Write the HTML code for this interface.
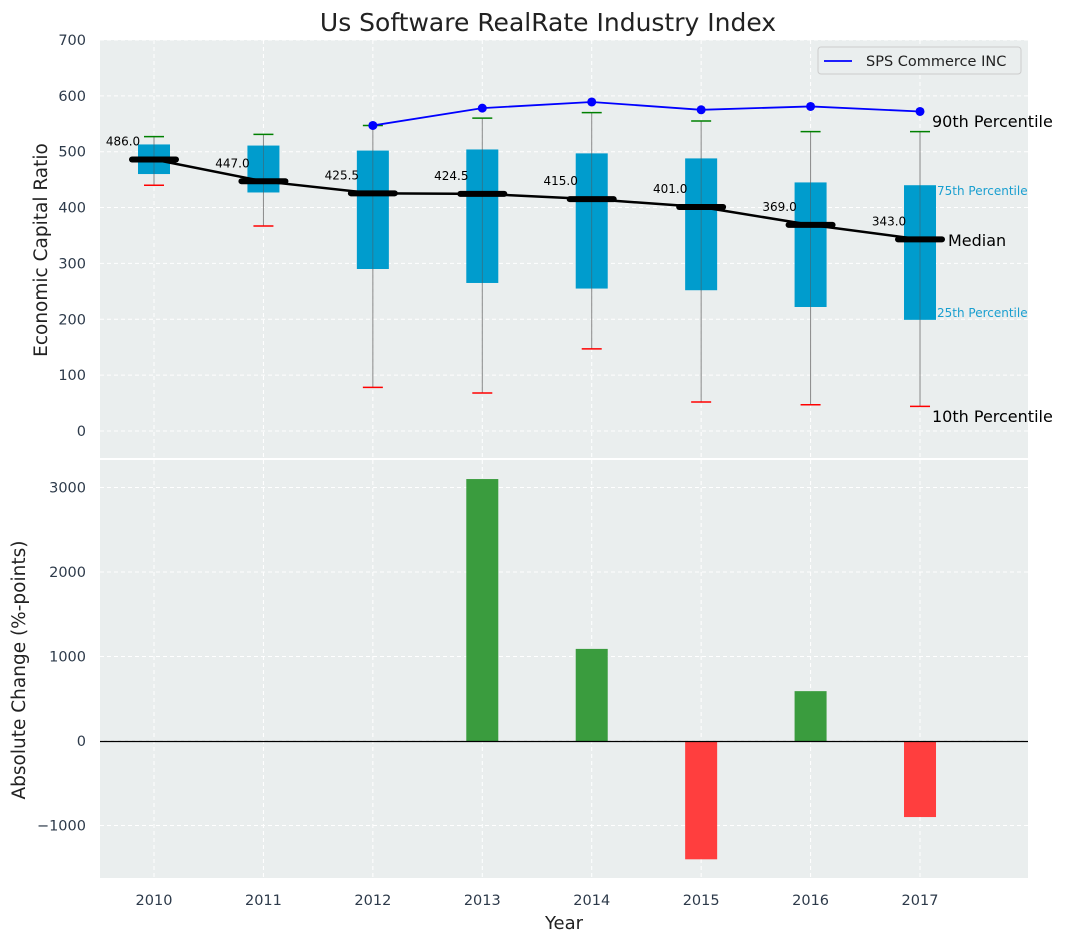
<!DOCTYPE html>
<html><head><meta charset="utf-8"><style>
body{margin:0;background:#fff;font-family:"Liberation Sans","DejaVu Sans",sans-serif}
svg text{font-family:"DejaVu Sans","Liberation Sans",sans-serif}
</style></head><body>
<svg id="chart" width="1067" height="942" xmlns="http://www.w3.org/2000/svg"></svg>
<script>
const years=[2010,2011,2012,2013,2014,2015,2016,2017];
const p10=[440,367,78,68,147,52,47,44];
const q1=[460,427,290,265,255,252,222,199];
const med=[486,447,425.5,424.5,415,401,369,343];
const q3=[513,511,502,504,497,488,445,440];
const p90=[527,531,547,560,570,555,536,536];
const spsYears=[2012,2013,2014,2015,2016,2017];
const spsVals=[547,578,589,575,581,572];
const chgYears=[2013,2014,2015,2016,2017];
const chgVals=[3100,1090,-1400,590,-900];
const topTicks=[0,100,200,300,400,500,600,700];
const botTicks=[-1000,0,1000,2000,3000];

const NS="http://www.w3.org/2000/svg";
const svg=document.getElementById('chart');
function el(t,a,p){const e=document.createElementNS(NS,t);for(const k in a)e.setAttribute(k,a[k]);(p||svg).appendChild(e);return e;}
const X=y=>154+(y-2010)*109.43;
const YT=v=>431-v*0.5586;
const YB=v=>741-v*0.0845;
const L=100,R=1028;

let bg=el('rect',{x:L,y:40,width:R-L,height:418,fill:'#eaeeee'});

let bg2=el('rect',{x:L,y:460,width:R-L,height:418,fill:'#eaeeee'});


topTicks.forEach(t=>{
  el('line',{x1:L,x2:R,y1:YT(t),y2:YT(t),stroke:'#fff','stroke-dasharray':'4,3'});
  const tx=el('text',{x:86,y:YT(t)+5,'text-anchor':'end','font-size':14.5,fill:'#2d3a4a'});tx.textContent=t;
  
});
botTicks.forEach(t=>{
  el('line',{x1:L,x2:R,y1:YB(t),y2:YB(t),stroke:'#fff','stroke-dasharray':'4,3'});
  const tx=el('text',{x:86,y:YB(t)+5,'text-anchor':'end','font-size':14.5,fill:'#2d3a4a'});tx.textContent=t<0?'\u2212'+(-t):t;
  
});
years.forEach(y=>{
  el('line',{x1:X(y),x2:X(y),y1:40,y2:458,stroke:'#fff','stroke-dasharray':'4,3'});
  el('line',{x1:X(y),x2:X(y),y1:460,y2:878,stroke:'#fff','stroke-dasharray':'4,3'});
  const tx=el('text',{x:X(y),y:905,'text-anchor':'middle','font-size':14.5,fill:'#2d3a4a'});tx.textContent=y;
  
});

years.forEach((y,i)=>{
  const x=X(y);
  el('line',{x1:x,x2:x,y1:YT(p90[i]),y2:YT(p10[i]),stroke:'#888','stroke-width':1});
  const b=el('rect',{x:x-16,y:YT(q3[i]),width:32,height:YT(q1[i])-YT(q3[i]),fill:'#009ccd'});
  
  el('line',{x1:x,x2:x,y1:YT(q3[i]),y2:YT(q1[i]),stroke:'#555','stroke-width':0.8,opacity:0.6});
  el('line',{x1:x-10,x2:x+10,y1:YT(p90[i]),y2:YT(p90[i]),stroke:'green','stroke-width':1.5});
  el('line',{x1:x-10,x2:x+10,y1:YT(p10[i]),y2:YT(p10[i]),stroke:'red','stroke-width':1.5});
});
el('polyline',{points:years.map((y,i)=>X(y)+','+YT(med[i])).join(' '),fill:'none',stroke:'#000','stroke-width':2.5});
years.forEach((y,i)=>{
  const m=el('line',{x1:X(y)-22,x2:X(y)+22,y1:YT(med[i]),y2:YT(med[i]),stroke:'#000','stroke-width':6,'stroke-linecap':'round'});
  
  const t=el('text',{x:X(y)-31,y:YT(med[i])-14,'text-anchor':'middle','font-size':12,fill:'#000'});t.textContent=med[i].toFixed(1);
  
});
const sl=el('polyline',{points:spsYears.map((y,i)=>X(y)+','+YT(spsVals[i])).join(' '),fill:'none',stroke:'blue','stroke-width':1.8});

spsYears.forEach((y,i)=>{const c=el('circle',{cx:X(y),cy:YT(spsVals[i]),r:4.5,fill:'blue'});
  });

[['90th Percentile',932,127,16,'#000'],['75th Percentile',937,195,12,'#1a9fd0'],['Median',948,246,16,'#000'],['25th Percentile',937,317,12,'#1a9fd0'],['10th Percentile',932,422,16,'#000']].forEach(a=>{
  const t=el('text',{x:a[1],y:a[2],'font-size':a[3],fill:a[4]});t.textContent=a[0];
  
});

const lg=el('g',{});
el('rect',{x:818,y:47,width:203,height:27,rx:3,fill:'#eaeeee',stroke:'#ccc'},lg);
el('line',{x1:824,x2:852,y1:61,y2:61,stroke:'blue','stroke-width':1.8},lg);
const lt=el('text',{x:866,y:66,'font-size':14.5,fill:'#222'},lg);lt.textContent='SPS Commerce INC';

chgYears.forEach((y,i)=>{
  const v=chgVals[i];
  const b=el('rect',{x:X(y)-16,y:Math.min(YB(v),YB(0)),width:32,height:Math.abs(YB(v)-YB(0)),fill:v>=0?'#3a9c3e':'#ff3e3e'});
  
});
el('line',{x1:L,x2:R,y1:Math.round(YB(0))+0.5,y2:Math.round(YB(0))+0.5,stroke:'#000','stroke-width':1.2});

let t=el('text',{x:548,y:31,'text-anchor':'middle','font-size':25,fill:'#222'});t.textContent='Us Software RealRate Industry Index';

t=el('text',{x:564,y:929,'text-anchor':'middle','font-size':18,fill:'#222'});t.textContent='Year';

t=el('text',{x:0,y:0,'text-anchor':'middle','font-size':18.5,fill:'#222',transform:'translate(47,250) rotate(-90)'});t.textContent='Economic Capital Ratio';

t=el('text',{x:0,y:0,'text-anchor':'middle','font-size':18.5,fill:'#222',transform:'translate(25,670) rotate(-90)'});t.textContent='Absolute Change (%-points)';

</script>
</body></html>
